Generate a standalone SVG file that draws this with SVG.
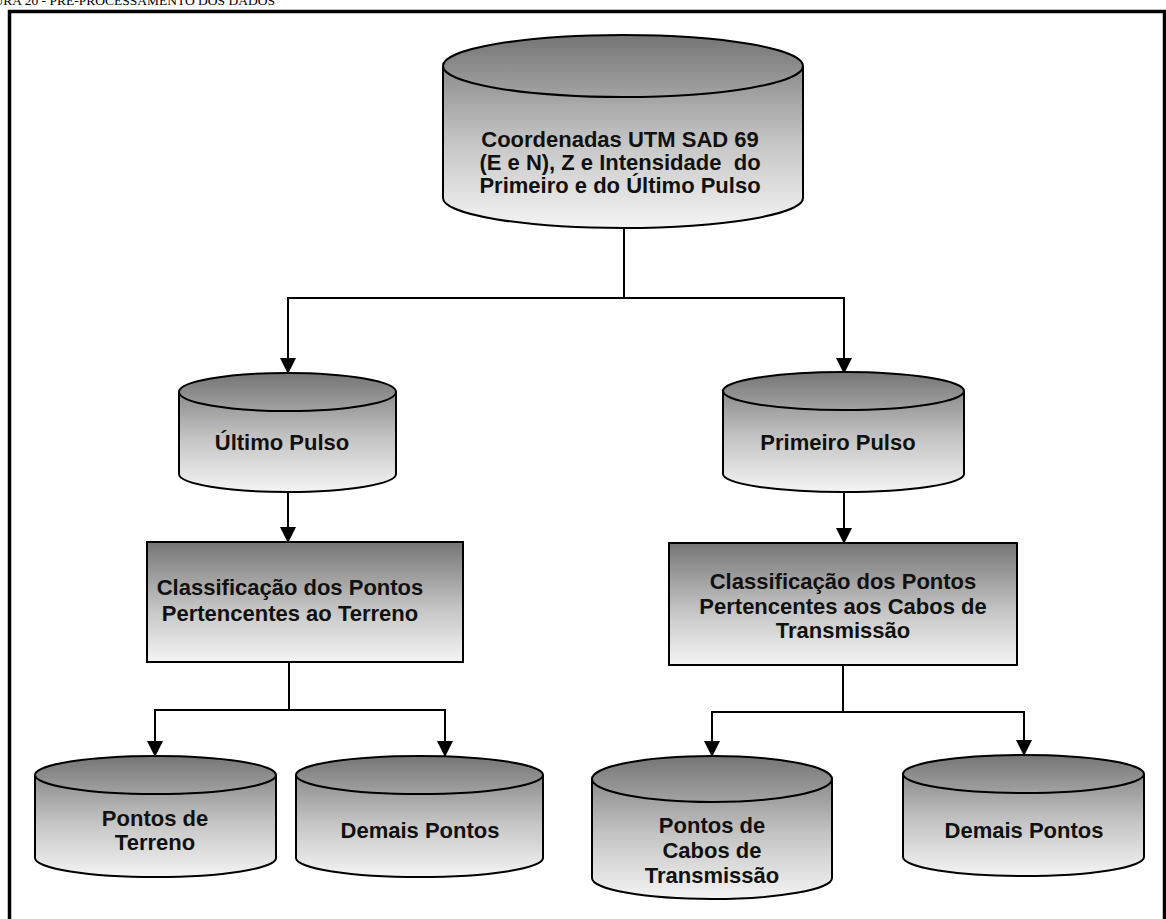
<svg xmlns="http://www.w3.org/2000/svg" width="1166" height="919" viewBox="0 0 1166 919">
  <style>
    .shape { stroke: #000; stroke-width: 2; fill: url(#shade); }
    .rim { fill: none; stroke: #000; stroke-width: 2; }
    .label { font-family: "Liberation Sans", Arial, sans-serif; font-weight: bold; font-size: 22px; fill: #111; text-anchor: middle; }
    .wire { fill: none; stroke: #000; stroke-width: 2; }
    .title { font-family: "Liberation Serif", "Times New Roman", serif; font-size: 13.5px; fill: #000; }
  </style>
  <defs>
    <linearGradient id="shade" x1="0" y1="0" x2="0" y2="1">
      <stop offset="0" stop-color="#757575"/>
      <stop offset="0.55" stop-color="#c4c4c4"/>
      <stop offset="1" stop-color="#f4f4f4"/>
    </linearGradient>
    <marker id="arrow" markerUnits="userSpaceOnUse" markerWidth="16" markerHeight="18" refX="15" refY="8" orient="auto">
      <path d="M0,0 L16,8 L0,16 Z" fill="#000"/>
    </marker>
  </defs>

  <rect width="1166" height="919" fill="#fff"/>

  <!-- caption, partly clipped by the page edge -->
  <text class="title" x="275" y="4.5" text-anchor="end">FIGURA 20 - PRÉ-PROCESSAMENTO DOS DADOS</text>

  <!-- outer frame -->
  <rect x="9.5" y="11.5" width="1155" height="930" fill="none" stroke="#000" stroke-width="3.5"/>

  <!-- connectors -->
  <g id="connectors">
    <line class="wire" x1="624" y1="228" x2="624" y2="298"/>
    <line class="wire" x1="287" y1="298" x2="845" y2="298"/>
    <line class="wire" x1="288" y1="298" x2="288" y2="373" marker-end="url(#arrow)"/>
    <line class="wire" x1="844" y1="298" x2="844" y2="373" marker-end="url(#arrow)"/>
    <line class="wire" x1="288" y1="492" x2="288" y2="542" marker-end="url(#arrow)"/>
    <line class="wire" x1="844" y1="492" x2="844" y2="543" marker-end="url(#arrow)"/>

    <line class="wire" x1="289" y1="662" x2="289" y2="710"/>
    <line class="wire" x1="154" y1="710" x2="446" y2="710"/>
    <line class="wire" x1="155" y1="710" x2="155" y2="756" marker-end="url(#arrow)"/>
    <line class="wire" x1="445" y1="710" x2="445" y2="756" marker-end="url(#arrow)"/>

    <line class="wire" x1="843" y1="665" x2="843" y2="712"/>
    <line class="wire" x1="711" y1="712" x2="1025" y2="712"/>
    <line class="wire" x1="712" y1="712" x2="712" y2="756" marker-end="url(#arrow)"/>
    <line class="wire" x1="1024" y1="712" x2="1024" y2="755" marker-end="url(#arrow)"/>
  </g>

  <!-- source data store -->
  <g id="node-coordenadas">
    <path class="shape" d="M443,66 A180,31 0 0 1 803,66 L803,198 A180,30 0 0 1 443,198 Z"/>
    <path class="rim" d="M443,66 A180,31 0 0 0 803,66"/>
    <text class="label" x="620" y="147">Coordenadas UTM SAD 69</text>
    <text class="label" x="620" y="170" style="white-space:pre">(E e N), Z e Intensidade  do</text>
    <text class="label" x="620" y="193">Primeiro e do Último Pulso</text>
  </g>

  <g id="node-ultimo">
    <path class="shape" d="M179,392 A108.5,19 0 0 1 396,392 L396,474 A108.5,18 0 0 1 179,474 Z"/>
    <path class="rim" d="M179,392 A108.5,19 0 0 0 396,392"/>
    <text class="label" x="282" y="450">Último Pulso</text>
  </g>

  <g id="node-primeiro">
    <path class="shape" d="M723,391 A120.5,19 0 0 1 964,391 L964,474 A120.5,18 0 0 1 723,474 Z"/>
    <path class="rim" d="M723,391 A120.5,19 0 0 0 964,391"/>
    <text class="label" x="838" y="450">Primeiro Pulso</text>
  </g>

  <g id="node-class-terreno">
    <rect class="shape" x="147" y="542" width="316" height="120"/>
    <text class="label" x="290" y="595">Classificação dos Pontos</text>
    <text class="label" x="290" y="621">Pertencentes ao Terreno</text>
  </g>

  <g id="node-class-cabos">
    <rect class="shape" x="669" y="543" width="348" height="122"/>
    <text class="label" x="843" y="589">Classificação dos Pontos</text>
    <text class="label" x="843" y="614">Pertencentes aos Cabos de</text>
    <text class="label" x="843" y="638">Transmissão</text>
  </g>

  <g id="node-pontos-terreno">
    <path class="shape" d="M35,775 A120.5,19 0 0 1 276,775 L276,858 A120.5,19 0 0 1 35,858 Z"/>
    <path class="rim" d="M35,775 A120.5,19 0 0 0 276,775"/>
    <text class="label" x="155" y="826">Pontos de</text>
    <text class="label" x="155" y="850">Terreno</text>
  </g>

  <g id="node-demais-terreno">
    <path class="shape" d="M296,775 A123.5,19 0 0 1 543,775 L543,858 A123.5,19 0 0 1 296,858 Z"/>
    <path class="rim" d="M296,775 A123.5,19 0 0 0 543,775"/>
    <text class="label" x="420" y="838">Demais Pontos</text>
  </g>

  <g id="node-pontos-cabos">
    <path class="shape" d="M592,779 A120,23 0 0 1 832,779 L832,878 A120,21 0 0 1 592,878 Z"/>
    <path class="rim" d="M592,779 A120,23 0 0 0 832,779"/>
    <text class="label" x="712" y="833">Pontos de</text>
    <text class="label" x="712" y="858">Cabos de</text>
    <text class="label" x="712" y="883">Transmissão</text>
  </g>

  <g id="node-demais-cabos">
    <path class="shape" d="M903,774 A120.5,19 0 0 1 1144,774 L1144,857 A120.5,19 0 0 1 903,857 Z"/>
    <path class="rim" d="M903,774 A120.5,19 0 0 0 1144,774"/>
    <text class="label" x="1024" y="838">Demais Pontos</text>
  </g>
</svg>
